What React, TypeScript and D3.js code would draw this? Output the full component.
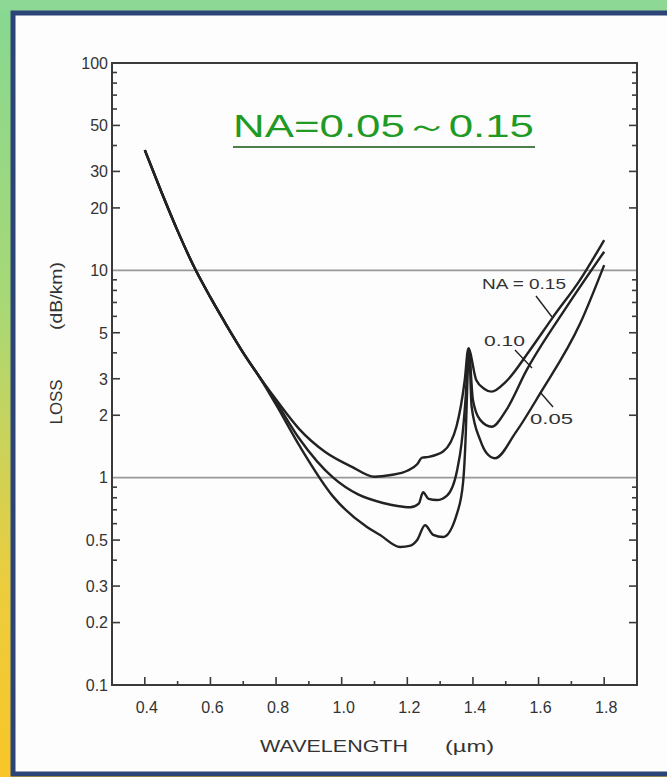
import React from 'react';
import * as d3 from 'd3';

// loss curves (wavelength in um, loss in dB/km)
const wave015 = [0.4, 0.45, 0.5, 0.55, 0.6, 0.65, 0.7, 0.75, 0.8, 0.87, 0.95, 1.03, 1.1, 1.15, 1.2, 1.23, 1.245, 1.265, 1.31, 1.35, 1.375, 1.386, 1.41, 1.435, 1.457, 1.5, 1.574, 1.644, 1.726, 1.8];
const loss015 = [38, 24, 15.5, 10.4, 7.4, 5.4, 4.0, 3.05, 2.38, 1.72, 1.33, 1.13, 1.01, 1.03, 1.08, 1.16, 1.25, 1.26, 1.34, 1.77, 2.95, 4.2, 2.96, 2.68, 2.6, 2.9, 4.13, 5.95, 8.97, 14];

const wave010 = [0.4, 0.45, 0.5, 0.55, 0.6, 0.65, 0.7, 0.75, 0.8, 0.87, 0.974, 1.05, 1.126, 1.17, 1.209, 1.235, 1.248, 1.265, 1.29, 1.321, 1.352, 1.365, 1.378, 1.387, 1.4, 1.422, 1.457, 1.5, 1.564, 1.686, 1.8];
const loss010 = [38, 24, 15.5, 10.4, 7.4, 5.4, 4.0, 3.05, 2.32, 1.55, 1.0, 0.83, 0.755, 0.73, 0.72, 0.75, 0.85, 0.79, 0.78, 0.82, 1.09, 1.45, 2.46, 4.2, 2.37, 1.9, 1.76, 2.1, 3.31, 6.68, 12.3];

const wave005 = [0.4, 0.45, 0.5, 0.55, 0.6, 0.65, 0.7, 0.75, 0.8, 0.873, 0.974, 1.077, 1.117, 1.178, 1.21, 1.23, 1.254, 1.279, 1.309, 1.352, 1.37, 1.378, 1.384, 1.388, 1.396, 1.422, 1.442, 1.467, 1.53, 1.605, 1.727, 1.8];
const loss005 = [38, 24, 15.5, 10.4, 7.4, 5.4, 4.0, 3.05, 2.25, 1.41, 0.81, 0.578, 0.529, 0.463, 0.47, 0.5, 0.59, 0.53, 0.517, 0.676, 0.95, 1.6, 3.2, 4.2, 2.2, 1.52, 1.31, 1.24, 1.65, 2.55, 5.55, 10.6];

const yLabelVals = [100, 50, 30, 20, 10, 5, 3, 2, 1, 0.5, 0.3, 0.2, 0.1];
const yLabelText = ['100', '50', '30', '20', '10', '5', '3', '2', '1', '0.5', '0.3', '0.2', '0.1'];
const yMinor = [0.4, 0.6, 0.7, 0.8, 0.9, 4, 6, 7, 8, 9, 40, 60, 70, 80, 90];
const gridVals = [10, 1];

const xMajor = [0.4, 0.6, 0.8, 1.0, 1.2, 1.4, 1.6, 1.8];
const xLabelText = ['0.4', '0.6', '0.8', '1.0', '1.2', '1.4', '1.6', '1.8'];
const xMinor = [0.5, 0.7, 0.9, 1.1, 1.3, 1.5, 1.7];

const W = 667, H = 777;
const plot = {left: 112, top: 63, right: 637, bottom: 685};
const ink = '#222';
const font = 'Liberation Sans, Arial, sans-serif';

const App = () => {
    const x = d3.scaleLinear().domain([0.3, 1.9]).range([plot.left, plot.right]);
    const y = d3.scaleLog().domain([0.1, 100]).range([plot.bottom, plot.top]);

    const line = d3.line<[number, number]>()
        .x(d => x(d[0]))
        .y(d => y(d[1]))
        .curve(d3.curveMonotoneX);

    const series = [
        {w: wave015, l: loss015},
        {w: wave010, l: loss010},
        {w: wave005, l: loss005},
    ];

    // ticks on left (pointing right) and right axis (pointing left)
    const yTicks: {v: number, len: number}[] = [];
    yLabelVals.forEach(v => {
        if (v !== 100 && v !== 10 && v !== 1 && v !== 0.1) yTicks.push({v, len: 8});
    });
    yMinor.forEach(v => yTicks.push({v, len: 5}));

    return (
        <svg width={W} height={H} style={{position: 'absolute', left: 0, top: 0}}>
            <defs>
                <linearGradient id="frameGrad" x1="0" y1="0" x2="0" y2="1">
                    <stop offset="0" stopColor="#86d892"/>
                    <stop offset="0.4" stopColor="#a9d874"/>
                    <stop offset="0.75" stopColor="#eccd3e"/>
                    <stop offset="1" stopColor="#f8c628"/>
                </linearGradient>
            </defs>
            <rect x={0} y={0} width={W} height={H} fill="url(#frameGrad)"/>
            <rect x={0} y={0} width={W} height={12} fill="#8cd894"/>
            <rect x={13} y={13} width={W} height={761} fill="#fdfdfd" stroke="#2c4478" strokeWidth={5}/>

            {/* grid lines at 10 and 1 */}
            {gridVals.map(v => (
                <line key={'g' + v} x1={plot.left} x2={plot.right} y1={y(v)} y2={y(v)}
                      stroke="#999" strokeWidth={1.6}/>
            ))}

            {/* plot frame */}
            <rect x={plot.left} y={plot.top} width={plot.right - plot.left} height={plot.bottom - plot.top}
                  fill="none" stroke="#3a3a3a" strokeWidth={2}/>

            {yTicks.map((t, i) => (
                <g key={'yt' + i}>
                    <line x1={plot.left} x2={plot.left + t.len} y1={y(t.v)} y2={y(t.v)} stroke="#3a3a3a" strokeWidth={1.6}/>
                    <line x1={plot.right} x2={plot.right - t.len} y1={y(t.v)} y2={y(t.v)} stroke="#3a3a3a" strokeWidth={1.6}/>
                </g>
            ))}
            {yLabelVals.map((v, i) => (
                <text key={'yl' + i} x={plot.left - 4} y={y(v)} dy="0.36em" textAnchor="end"
                      fontFamily={font} fontSize={16} fill="#333">{yLabelText[i]}</text>
            ))}

            {xMajor.map((v, i) => (
                <g key={'xt' + i}>
                    <line x1={x(v)} x2={x(v)} y1={plot.bottom} y2={plot.bottom - 8} stroke="#3a3a3a" strokeWidth={1.6}/>
                    <text x={x(v) + 2} y={plot.bottom + 28} textAnchor="middle"
                          fontFamily={font} fontSize={16} fill="#333">{xLabelText[i]}</text>
                </g>
            ))}
            {xMinor.map((v, i) => (
                <line key={'xm' + i} x1={x(v)} x2={x(v)} y1={plot.bottom} y2={plot.bottom - 4}
                      stroke="#3a3a3a" strokeWidth={1.6}/>
            ))}

            {/* axis titles */}
            <text x={260} y={752} fontFamily={font} fontSize={16} fill="#333"
                  textLength={148} lengthAdjust="spacingAndGlyphs">WAVELENGTH</text>
            <text x={445} y={752} fontFamily={font} fontSize={16} fill="#333"
                  textLength={49} lengthAdjust="spacingAndGlyphs">(µm)</text>
            <text transform="translate(62,402) rotate(-90)" textAnchor="middle" fontFamily={font}
                  fontSize={16} fill="#333" textLength={45} lengthAdjust="spacingAndGlyphs">LOSS</text>
            <text transform="translate(62,296) rotate(-90)" textAnchor="middle" fontFamily={font}
                  fontSize={16} fill="#333" textLength={68} lengthAdjust="spacingAndGlyphs">(dB/km)</text>

            {/* curves */}
            {series.map((s, i) => (
                <path key={'c' + i}
                      d={line(s.w.map((w, j) => [w, s.l[j]] as [number, number])) || ''}
                      fill="none" stroke={ink} strokeWidth={2.4} strokeLinejoin="round"/>
            ))}

            {/* curve labels with leaders */}
            <text x={482} y={289} fontFamily={font} fontSize={15} fill="#333" textLength={84}
                  lengthAdjust="spacingAndGlyphs">NA = 0.15</text>
            <line x1={536} y1={296} x2={552} y2={317} stroke={ink} strokeWidth={1.4}/>
            <text x={484} y={346} fontFamily={font} fontSize={15} fill="#333" textLength={41}
                  lengthAdjust="spacingAndGlyphs">0.10</text>
            <line x1={515} y1={350} x2={532} y2={368} stroke={ink} strokeWidth={1.4}/>
            <text x={530} y={424} fontFamily={font} fontSize={15} fill="#333" textLength={43}
                  lengthAdjust="spacingAndGlyphs">0.05</text>
            <line x1={540} y1={392} x2={553} y2={407} stroke={ink} strokeWidth={1.4}/>

            {/* title */}
            <text x={233} y={137} fontFamily={font} fontSize={31} fill="#1f9a24" textLength={301}
                  lengthAdjust="spacingAndGlyphs">NA=0.05～0.15</text>
            <line x1={233} x2={535} y1={147} y2={147} stroke="#4d7f4d" strokeWidth={2}/>
        </svg>
    );
};

export default App;
